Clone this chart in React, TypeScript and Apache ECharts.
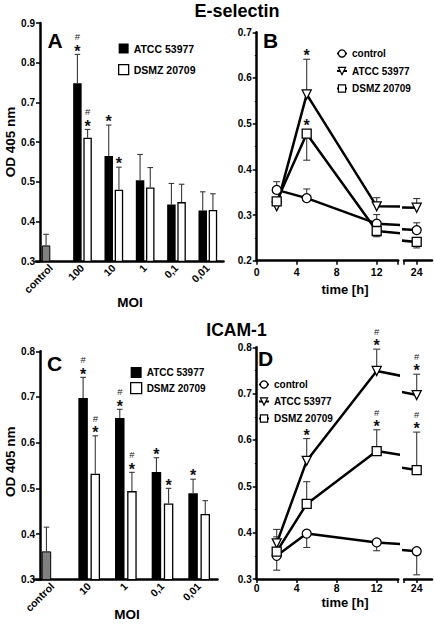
import React, { useEffect, useRef } from "react";
import * as echarts from "echarts";

const FF = "'Liberation Sans', Arial, Helvetica, sans-serif";
const FN = "'Liberation Sans Narrow', 'Liberation Sans', Arial, sans-serif";

// ---------- Panel A (E-selectin, MOI) ----------
const catsA = ["control", "100", "10", "1", "0,1", "0,01"];
const ctrlA = 0.34;
const ctrlAErr = 0.368;
const atccA = [0.748, 0.565, 0.504, 0.443, 0.428];
const atccAErr = [0.821, 0.643, 0.569, 0.496, 0.475];
const dsmzA = [0.611, 0.48, 0.486, 0.449, 0.429];
const dsmzAErr = [0.632, 0.537, 0.536, 0.494, 0.47];
const sigAtccA = ["#*", "*", "", "", ""];
const sigDsmzA = ["#*", "*", "", "", ""];

// ---------- Panel C (ICAM-1, MOI) ----------
const catsC = ["control", "10", "1", "0,1", "0,01"];
const ctrlC = 0.362;
const ctrlCErr = 0.415;
const atccC = [0.698, 0.654, 0.536, 0.489];
const atccCErr = [0.743, 0.673, 0.567, 0.52];
const dsmzC = [0.532, 0.494, 0.467, 0.444];
const dsmzCErr = [0.615, 0.535, 0.5, 0.473];
const sigAtccC = ["#*", "#*", "*", "*"];
const sigDsmzC = ["#*", "#*", "*", ""];

// ---------- Time course (B, D) ----------
const times = [2, 5, 12, 24];
const timeTicks = [0, 4, 8, 12];
const lateTicks = [24];

const ctrlB = [0.355, 0.337, 0.281, 0.267];
const ctrlBErr = [0.373, 0.357, 0.301, 0.283];
const atccB = [0.319, 0.564, 0.319, 0.316];
const atccBErr = [null, 0.641, 0.338, 0.336];
const dsmzB = [0.33, 0.478, 0.265, 0.241];
const dsmzBErr = [null, 0.42, 0.2525, 0.228];
const sigAtccB = ["", "*", "", ""];
const sigDsmzB = ["", "*", "", ""];

const ctrlD = [0.35, 0.398, 0.379, 0.36];
const ctrlDErr = [0.319, 0.368, 0.361, 0.309];
const atccD = [0.377, 0.555, 0.749, 0.697];
const atccDErr = [0.407, 0.603, 0.796, 0.742];
const dsmzD = [0.359, 0.462, 0.576, 0.535];
const dsmzDErr = [0.391, 0.51, 0.622, 0.617];
const sigAtccD = ["", "*", "#*", "#*"];
const sigDsmzD = ["", "", "#*", "#*"];
const sigNone = ["", "", "", ""];

const L_MAX = 14.15;
const R_MIN = 22.73;
const R_MAX = 25.53;

const ERR_COLOR = "#383838";

function errItem(offset: number, sigs: string[], markerHalf: number, capHalf: number) {
  return (params: any, api: any) => {
    const x = api.value(0);
    const v = api.value(1);
    const e = api.value(2);
    const k = api.value(3);
    const p = api.coord([x, v]);
    const q = api.coord([x, e]);
    const cx = p[0] + offset;
    const children: any[] = [
      { type: "line", shape: { x1: cx, y1: p[1], x2: cx, y2: q[1] }, style: { stroke: ERR_COLOR, lineWidth: 1.1 } },
      { type: "line", shape: { x1: cx - capHalf, y1: q[1], x2: cx + capHalf, y2: q[1] }, style: { stroke: ERR_COLOR, lineWidth: 1.1 } },
    ];
    const s = sigs[k] || "";
    const anchor = Math.min(q[1], p[1] - markerHalf);
    if (s.indexOf("*") >= 0) {
      children.push({
        type: "text", x: cx, y: anchor - 3.3,
        style: { text: "*", fill: "#111", fontSize: 16, fontWeight: "bold", fontFamily: FF, align: "center", verticalAlign: "middle" },
      });
    }
    if (s.indexOf("#") >= 0) {
      children.push({
        type: "text", x: cx, y: anchor - 17.5,
        style: { text: "#", fill: "#222", fontSize: 9.5, fontFamily: FF, align: "center", verticalAlign: "middle" },
      });
    }
    return { type: "group", children };
  };
}

const barErrData = (vals: number[], errs: number[], start: number) =>
  vals.map((v, i) => [i + start, v, errs[i], i]);

const lineErrData = (vals: number[], errs: (number | null)[], left: boolean) =>
  times
    .map((t, i) => [t, vals[i], errs[i], i])
    .filter((d) => d[2] != null && (left ? (d[0] as number) <= L_MAX : (d[0] as number) >= R_MIN));

const axisLine = { show: true, lineStyle: { color: "#000", width: 2.5 } };
const tickStyle = { color: "#000", width: 1.5 };
const labelStyle = { color: "#000", fontSize: 10, fontWeight: "bold" as const, fontFamily: FF };

const TRI = "path://M0,0L10,0L5,9Z";

function yAxis(grid: number, min: number, max: number, offset: number, minor: boolean, show = true) {
  return {
    type: "value", gridIndex: grid, min, max, interval: 0.1, offset, show,
    axisLine, axisTick: { show: true, length: 4, lineStyle: tickStyle },
    minorTick: { show: minor, splitNumber: 2, length: 2, lineStyle: { color: "#000", width: 1 } },
    axisLabel: { ...labelStyle, margin: 5, formatter: (v: number) => v.toFixed(1) },
    splitLine: { show: false },
  };
}

function catAxis(grid: number, cats: string[]) {
  return {
    type: "category", gridIndex: grid, data: cats,
    axisLine, axisTick: { show: false },
    axisLabel: { ...labelStyle, fontSize: 10.5, rotate: 45, interval: 0, margin: 5 },
    splitLine: { show: false },
  };
}

function timeAxisLeft(grid: number, margin: number) {
  return {
    type: "value", gridIndex: grid, min: 0, max: L_MAX,
    axisLine, axisTick: { show: true, length: 4, lineStyle: tickStyle, customValues: [...timeTicks, L_MAX] },
    axisLabel: { ...labelStyle, fontSize: 10.5, margin, customValues: timeTicks },
    splitLine: { show: false },
  };
}

function timeAxisRight(grid: number, margin: number) {
  return {
    type: "value", gridIndex: grid, min: R_MIN, max: R_MAX,
    axisLine, axisTick: { show: true, length: 4, lineStyle: tickStyle, customValues: [R_MIN, ...lateTicks] },
    axisLabel: { ...labelStyle, fontSize: 10.5, margin, customValues: lateTicks },
    splitLine: { show: false },
  };
}

const symStyle = { color: "#fff", borderColor: "#000", borderWidth: 1.3 };

function lineSeries(name: string, vals: number[], ax: number, symbol: string) {
  return {
    type: "line", name, xAxisIndex: ax, yAxisIndex: ax,
    data: times.map((t, i) => [t, vals[i]]),
    symbol, symbolSize: 9, showAllSymbol: true,
    lineStyle: { color: "#000", width: 2.5 },
    itemStyle: symStyle, z: 3,
  };
}

function errSeries(ax: number, data: any[], sigs: string[], offset: number, markerHalf: number, capHalf: number, z: number) {
  return {
    type: "custom", xAxisIndex: ax, yAxisIndex: ax, data, z,
    renderItem: errItem(offset, sigs, markerHalf, capHalf),
  };
}

function timePanel(prefix: string, left: number, right: number, c: number[], cE: any[], a: number[], aE: any[], d: number[], dE: any[], sA: string[], sD: string[]) {
  const out: any[] = [];
  [left, right].forEach((ax) => {
    const isLeft = ax === left;
    const p = isLeft ? prefix : prefix + "2";
    out.push(lineSeries(p + "|control", c, ax, "circle"));
    out.push(lineSeries(p + "|ATCC 53977", a, ax, TRI));
    out.push(lineSeries(p + "|DSMZ 20709", d, ax, "rect"));
    out.push(errSeries(ax, lineErrData(c, cE, isLeft), sigNone, 0, 5, 3.5, 1));
    out.push(errSeries(ax, lineErrData(a, aE, isLeft), sA, 0, 5, 3.5, 1));
    out.push(errSeries(ax, lineErrData(d, dE, isLeft), sD, 0, 5, 3.5, 1));
  });
  return out;
}

function txt(text: string, x: number, y: number, size: number, rot = 0) {
  return {
    type: "text", x, y, rotation: rot, z: 10,
    style: {
      text, fill: "#000", fontSize: size, fontWeight: "bold", fontFamily: FF,
      align: "center", verticalAlign: "middle", textAlign: "center", textVerticalAlign: "middle",
    },
  };
}

function legendBar(prefix: string, left: number, top: number, size: number, gap: number, font: number, fam: string) {
  return {
    data: [
      { name: prefix + "|ATCC 53977", itemStyle: { color: "#000", borderWidth: 0 } },
      { name: prefix + "|DSMZ 20709", itemStyle: { color: "#fff", borderColor: "#000", borderWidth: 1.3 } },
    ],
    left, top, orient: "vertical", icon: "rect", itemWidth: size, itemHeight: size, itemGap: gap, padding: 0,
    selectedMode: false, formatter: (n: string) => n.split("|")[1],
    textStyle: { color: "#000", fontSize: font, fontWeight: "bold", fontFamily: fam },
  };
}

function legendLine(prefix: string, left: number, top: number, gap: number) {
  return {
    data: [prefix + "|control", prefix + "|ATCC 53977", prefix + "|DSMZ 20709"],
    left, top, orient: "vertical", itemWidth: 10, itemHeight: 9, itemGap: gap, padding: 0,
    selectedMode: false, formatter: (n: string) => n.split("|")[1],
    lineStyle: { color: "#000", width: 2 },
    itemStyle: { color: "#fff", borderColor: "#000", borderWidth: 1.2 },
    textStyle: { color: "#000", fontSize: 10, fontWeight: "bold", fontFamily: FN },
  };
}

function buildOption() {
  const barW = 8.5;
  const barWC = 9.5;
  const series: any[] = [
    // Panel A bars
    {
      type: "bar", name: "A|ATCC 53977", xAxisIndex: 0, yAxisIndex: 0, barWidth: barW, barGap: "20%",
      data: [{ value: ctrlA, itemStyle: { color: "#808080", borderColor: "#000", borderWidth: 1 } }, ...atccA],
      itemStyle: { color: "#000" }, z: 2,
    },
    {
      type: "bar", name: "A|DSMZ 20709", xAxisIndex: 0, yAxisIndex: 0, barWidth: barW, barGap: "20%",
      data: ["-", ...dsmzA], itemStyle: { color: "#fff", borderColor: "#000", borderWidth: 1.3 }, z: 2,
    },
    errSeries(0, [[0, ctrlA, ctrlAErr, -1], ...barErrData(atccA, atccAErr, 1)], sigAtccA, -(barW * 1.2) / 2, 0, 2.8, 4),
    errSeries(0, barErrData(dsmzA, dsmzAErr, 1), sigDsmzA, (barW * 1.2) / 2, 0, 2.8, 4),
    // Panel C bars
    {
      type: "bar", name: "C|ATCC 53977", xAxisIndex: 3, yAxisIndex: 3, barWidth: barWC, barGap: "28%",
      data: [{ value: ctrlC, itemStyle: { color: "#808080", borderColor: "#000", borderWidth: 1 } }, ...atccC],
      itemStyle: { color: "#000" }, z: 2,
    },
    {
      type: "bar", name: "C|DSMZ 20709", xAxisIndex: 3, yAxisIndex: 3, barWidth: barWC, barGap: "28%",
      data: ["-", ...dsmzC], itemStyle: { color: "#fff", borderColor: "#000", borderWidth: 1.3 }, z: 2,
    },
    errSeries(3, [[0, ctrlC, ctrlCErr, -1], ...barErrData(atccC, atccCErr, 1)], sigAtccC, -(barWC * 1.28) / 2, 0, 2.8, 4),
    errSeries(3, barErrData(dsmzC, dsmzCErr, 1), sigDsmzC, (barWC * 1.28) / 2, 0, 2.8, 4),
    // Panels B and D
    ...timePanel("B", 1, 2, ctrlB, ctrlBErr, atccB, atccBErr, dsmzB, dsmzBErr, sigAtccB, sigDsmzB),
    ...timePanel("D", 4, 5, ctrlD, ctrlDErr, atccD, atccDErr, dsmzD, dsmzDErr, sigAtccD, sigDsmzD),
  ];

  return {
    animation: false,
    backgroundColor: "#fff",
    textStyle: { fontFamily: FF },
    grid: [
      { left: 35.5, top: 23, width: 188, height: 238.3 },
      { left: 256.7, top: 32.3, width: 141.5, height: 228.4 },
      { left: 404, top: 32.3, width: 28, height: 228.4 },
      { left: 34.2, top: 351.3, width: 183.3, height: 228.4 },
      { left: 256.7, top: 347.3, width: 141.5, height: 231.7 },
      { left: 404, top: 347.3, width: 28, height: 231.7 },
    ],
    xAxis: [
      catAxis(0, catsA),
      timeAxisLeft(1, 6),
      timeAxisRight(2, 6),
      catAxis(3, catsC),
      timeAxisLeft(4, 3),
      timeAxisRight(5, 3),
    ],
    yAxis: [
      yAxis(0, 0.3, 0.9, -4.5, false),
      yAxis(1, 0.2, 0.7, 0, true),
      yAxis(2, 0.2, 0.7, 0, false, false),
      yAxis(3, 0.3, 0.8, -5.8, false),
      yAxis(4, 0.3, 0.8, 0, true),
      yAxis(5, 0.3, 0.8, 0, false, false),
    ],
    legend: [
      legendBar("A", 118, 43, 10, 10, 10.5, FF),
      legendLine("B", 336, 48.5, 7.5),
      legendBar("C", 130, 367, 11, 4, 10, FN),
      legendLine("D", 258, 379.5, 7),
    ],
    graphic: [
      txt("E-selectin", 237, 10.5, 18),
      txt("ICAM-1", 236.5, 329.5, 17.5),
      txt("A", 55, 40.5, 21),
      txt("B", 270.5, 40.5, 21),
      txt("C", 54.5, 363.5, 21),
      txt("D", 265.5, 358.5, 21),
      txt("OD 405 nm", 10.5, 142, 13.5, Math.PI / 2),
      txt("OD 405 nm", 10.5, 461.7, 13.5, Math.PI / 2),
      txt("MOI", 130, 302, 13.5),
      txt("MOI", 127, 614, 13.5),
      txt("time [h]", 345, 289, 13),
      txt("time [h]", 345, 602.5, 13),
    ],
    series,
  };
}

export default function App() {
  const ref = useRef<HTMLDivElement>(null);
  useEffect(() => {
    document.body.style.margin = "0";
    if (!ref.current) return;
    const chart = echarts.init(ref.current, undefined, { renderer: "svg" });
    chart.setOption(buildOption() as any);
    return () => chart.dispose();
  }, []);
  return <div ref={ref} style={{ width: 435, height: 627 }} />;
}
